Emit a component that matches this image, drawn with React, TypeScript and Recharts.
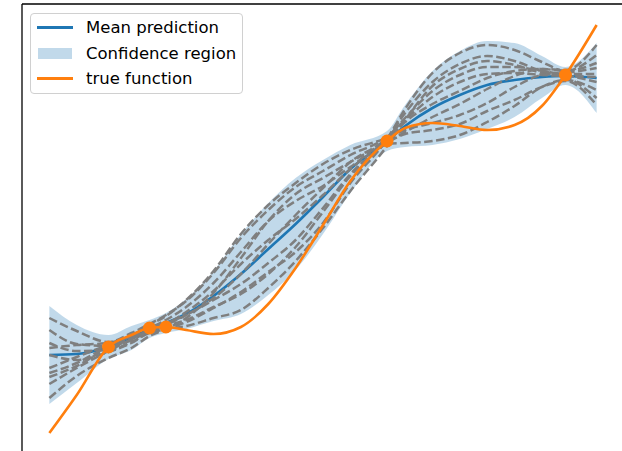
import React from "react";
import { ComposedChart, Area, Line, Scatter, XAxis, YAxis, ReferenceLine } from "recharts";

// sample grid along x (denser around the observed points)
const xs = [0, 0.5, 1.08, 1.5, 1.83, 2.13, 2.5, 3, 3.5, 4, 4.5, 5, 5.5, 6.17, 6.5, 7, 7.5, 8, 8.5, 9, 9.43, 10];

const meanPred = [9.9, 10.0, 10.7, 11.6, 12.5, 13.1, 14.0, 15.8, 18.0, 20.5, 23.0, 25.7, 28.5, 31.3, 32.8, 34.6, 35.9, 36.9, 37.4, 37.7, 37.8, 37.6];
const bandLow = [5.0, 7.1, 9.5, 10.4, 11.6, 12.1, 12.5, 13.3, 14.0, 15.9, 18.4, 22.0, 26.1, 30.3, 30.7, 30.9, 31.5, 32.5, 33.7, 35.6, 36.9, 34.1];
const bandHigh = [14.8, 12.9, 11.9, 12.8, 13.4, 14.1, 15.5, 18.3, 22.0, 25.1, 27.6, 29.4, 30.9, 32.3, 34.9, 38.3, 40.3, 41.3, 41.1, 39.8, 38.7, 41.1];
const trueFn = [2.1, 5.9, 10.7, 11.9, 12.6, 12.7, 12.4, 12.0, 12.7, 15.0, 18.6, 22.9, 27.3, 31.3, 32.6, 33.1, 32.8, 32.4, 32.9, 34.8, 37.9, 42.9];

// posterior draws
const sampleA = [13.6, 12.3, 11.2, 12.1, 13.0, 13.9, 15.3, 18.1, 21.6, 24.4, 26.7, 28.3, 29.9, 31.7, 33.4, 35.7, 37.2, 38.0, 38.1, 37.9, 37.8, 37.7];
const sampleB = [11.1, 10.3, 10.4, 11.2, 12.1, 12.5, 13.2, 14.6, 16.2, 18.2, 20.2, 23.1, 27.1, 31.5, 34.5, 38.1, 40.1, 40.9, 40.4, 39.2, 38.3, 39.9];
const sampleC = [10.6, 10.9, 11.1, 11.8, 12.6, 13.4, 14.7, 17.1, 20.2, 23.3, 25.3, 26.8, 28.7, 31.0, 31.1, 31.3, 31.9, 33.2, 34.8, 36.7, 37.4, 36.4];
const sampleD = [9.9, 9.4, 10.2, 11.1, 12.2, 12.5, 12.8, 13.6, 14.4, 16.6, 19.3, 22.6, 26.3, 30.8, 33.4, 36.8, 38.5, 39.3, 38.9, 38.1, 37.7, 35.6];
const sampleE = [8.6, 9.7, 10.9, 11.6, 12.4, 13.0, 14.2, 16.3, 19.0, 21.4, 23.5, 25.9, 28.5, 31.4, 33.2, 35.0, 36.3, 37.6, 38.3, 38.5, 38.3, 39.1];
const sampleF = [8.1, 9.1, 10.8, 11.8, 12.9, 13.8, 15.4, 18.3, 22.0, 24.9, 27.1, 29.0, 30.4, 31.6, 32.4, 33.1, 33.9, 35.1, 36.7, 37.9, 38.1, 38.6];
const sampleG = [7.7, 8.8, 10.6, 11.4, 12.3, 12.9, 13.9, 15.4, 17.0, 19.1, 21.4, 24.6, 28.0, 31.5, 34.1, 37.2, 39.0, 39.8, 39.3, 38.3, 37.9, 37.2];
const sampleH = [5.6, 7.8, 9.6, 10.6, 11.8, 12.5, 13.6, 16.1, 19.6, 23.3, 26.0, 27.6, 29.2, 31.2, 32.2, 33.7, 35.0, 36.5, 37.8, 38.5, 38.4, 40.9];
const sampleI = [12.4, 11.0, 10.8, 11.5, 12.3, 12.8, 13.4, 14.7, 16.0, 18.0, 20.7, 24.2, 27.8, 31.1, 32.0, 32.4, 33.0, 34.3, 35.4, 36.7, 37.3, 34.9];
const sampleJ = [7.0, 8.6, 10.3, 11.5, 12.6, 13.1, 13.9, 15.6, 18.0, 21.0, 23.9, 26.6, 29.2, 31.6, 33.6, 36.3, 37.9, 38.7, 38.7, 38.3, 38.0, 38.0];
const samples = [sampleA, sampleB, sampleC, sampleD, sampleE, sampleF, sampleG, sampleH, sampleI, sampleJ];

// training observations
const trainX = [1.08, 1.83, 2.13, 6.17, 9.43];
const trainY = [10.7, 12.6, 12.7, 31.3, 37.9];

const rows = xs.map((x, i) => {
  const row: Record<string, any> = {
    x,
    mean: meanPred[i],
    band: [bandLow[i], bandHigh[i]],
    truth: trueFn[i],
  };
  samples.forEach((s, k) => {
    row["s" + k] = s[i];
  });
  return row;
});

const points = trainX.map((x, i) => ({ x, y: trainY[i] }));

const BLUE = "#1f77b4";
const ORANGE = "#ff7f0e";
const FONT = "'DejaVu Sans', sans-serif";

const Dot = (props: any) => <circle cx={props.cx} cy={props.cy} r={6.5} fill={ORANGE} />;

function LegendBox() {
  const row: React.CSSProperties = { display: "flex", alignItems: "center", height: 25.5 };
  const label: React.CSSProperties = { marginLeft: 13, fontSize: 16.5, color: "#000" };
  return (
    <div
      style={{
        position: "absolute",
        left: 30,
        top: 13,
        width: 213,
        height: 81,
        border: "1px solid #d0d0d0",
        borderRadius: 4,
        background: "rgba(255,255,255,0.8)",
        fontFamily: FONT,
        padding: "1px 0 0 6px",
        boxSizing: "border-box",
      }}
    >
      <div style={row}>
        <div style={{ width: 36, height: 2.6, background: BLUE }} />
        <span style={label}>Mean prediction</span>
      </div>
      <div style={row}>
        <div style={{ width: 34, height: 11, marginLeft: 1, marginRight: 1, background: BLUE, opacity: 0.28 }} />
        <span style={label}>Confidence region</span>
      </div>
      <div style={row}>
        <div style={{ width: 36, height: 2.6, background: ORANGE }} />
        <span style={label}>true function</span>
      </div>
    </div>
  );
}

export default function App() {
  return (
    <div style={{ position: "absolute", left: 0, top: 0, width: 622, height: 451, overflow: "hidden", background: "#fff" }}>
      <ComposedChart width={660} height={480} data={rows} margin={{ top: 4, left: 22, right: 36, bottom: 26 }}>
        <XAxis dataKey="x" type="number" domain={[-0.5, 10.5]} hide allowDataOverflow />
        <YAxis type="number" domain={[0, 45]} hide allowDataOverflow />
        <Area
          dataKey="band"
          type="monotone"
          stroke="none"
          fill={BLUE}
          fillOpacity={0.28}
          isAnimationActive={false}
        />
        <Line dataKey="mean" type="monotone" stroke={BLUE} strokeWidth={2.6} dot={false} isAnimationActive={false} />
        {samples.map((_, k) => (
          <Line
            key={k}
            dataKey={"s" + k}
            type="monotone"
            stroke="#7f7f7f"
            strokeWidth={2.5}
            strokeDasharray="8.5 3.5"
            dot={false}
            isAnimationActive={false}
          />
        ))}
        <Line dataKey="truth" type="monotone" stroke={ORANGE} strokeWidth={2.6} dot={false} isAnimationActive={false} />
        <Scatter data={points} dataKey="y" fill={ORANGE} shape={Dot} isAnimationActive={false} />
        {/* frame: left and top spines */}
        <ReferenceLine x={-0.5} stroke="#000" strokeWidth={1.3} />
        <ReferenceLine y={45} stroke="#000" strokeWidth={1.3} />
      </ComposedChart>
      <LegendBox />
    </div>
  );
}
